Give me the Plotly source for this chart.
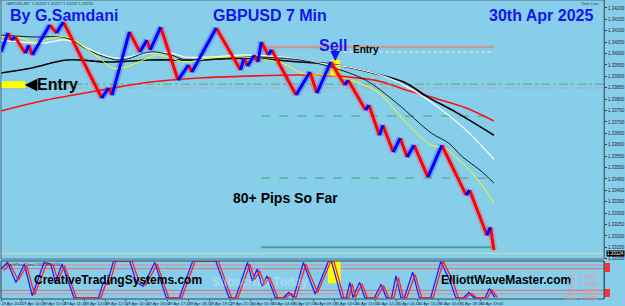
import plotly.graph_objects as go

# ---------------- data (bar index = 7-minute bars, prices GBPUSD) ----------------
price_bar = [0, 2, 3, 4, 7, 8, 9, 14, 16, 17, 18, 29, 31, 32, 37, 40, 42, 43, 46, 51,
             54, 55, 62, 69, 70, 71, 73, 74, 75, 77, 78, 85, 89, 91, 95, 99, 100, 105,
             106, 109, 110, 113, 115, 117, 119, 123, 127, 134, 135, 140, 141, 142]
price_val = [1.34007, 1.34090, 1.34059, 1.34073, 1.34002, 1.34037, 1.33994, 1.34125,
             1.34090, 1.34116, 1.34138, 1.33805, 1.33849, 1.33818, 1.34095, 1.34007,
             1.34059, 1.34016, 1.34116, 1.33884, 1.33950, 1.33919, 1.34112, 1.33928,
             1.33980, 1.33945, 1.33994, 1.33963, 1.34051, 1.33994, 1.34016, 1.33818,
             1.33919, 1.33827, 1.33963, 1.33862, 1.33884, 1.33752, 1.33774, 1.33642,
             1.33686, 1.33568, 1.33629, 1.33546, 1.33598, 1.33458, 1.33598, 1.33379,
             1.33401, 1.33203, 1.33238, 1.33138]

ma_red_bar = [0, 13, 29, 43, 57, 71, 86, 97, 109, 116, 126, 134, 142]
ma_red_val = [1.33748, 1.33796, 1.33840, 1.33875, 1.33893, 1.33901, 1.33906, 1.33901,
              1.33879, 1.33844, 1.33800, 1.33761, 1.33704]

ma_black_bar = [0, 9, 19, 31, 43, 57, 71, 86, 95, 106, 116, 123, 131, 142]
ma_black_val = [1.33915, 1.33937, 1.33972, 1.33963, 1.33972, 1.33972, 1.33980, 1.33963,
                1.33954, 1.33919, 1.33875, 1.33809, 1.33743, 1.33642]

ma_white_bar = [0, 12, 19, 28, 33, 43, 49, 53, 60, 71, 81, 92, 100, 111, 120, 127, 134, 142]
ma_white_val = [1.34059, 1.34046, 1.34059, 1.34002, 1.33980, 1.34002, 1.34002, 1.33985,
                1.33985, 1.33994, 1.33985, 1.33958, 1.33941, 1.33897, 1.33827, 1.33752,
                1.33664, 1.33537]

ma_dark_bar = [0, 9, 19, 25, 31, 35, 43, 49, 53, 60, 71, 86, 95, 105, 114, 124, 129, 133, 138, 142]
ma_dark_val = [1.34081, 1.34073, 1.34068, 1.34016, 1.33980, 1.33972, 1.34007, 1.33994,
               1.33972, 1.33972, 1.33985, 1.33972, 1.33941, 1.33884, 1.33783, 1.33651,
               1.33607, 1.33546, 1.33489, 1.33432]

ma_yellow_bar = [0, 6, 9, 19, 25, 29, 32, 36, 41, 45, 49, 53, 60, 69, 81, 86, 89, 95,
                 103, 109, 114, 118, 124, 128, 131, 135, 139, 142]
ma_yellow_val = [1.34073, 1.34068, 1.34051, 1.34073, 1.34016, 1.33972, 1.33937, 1.33941,
                 1.33972, 1.33994, 1.33980, 1.33963, 1.33980, 1.33985, 1.33958, 1.33919,
                 1.33906, 1.33906, 1.33871, 1.33827, 1.33743, 1.33678, 1.33598, 1.33585,
                 1.33546, 1.33489, 1.33414, 1.33344]

level_tp_top = 1.34029      # brown line
level_white_dot = 1.34007
level_green_dd = 1.33866
level_pink_dd = 1.33849
level_green_1 = 1.33726
level_green_2 = 1.33454
level_teal = 1.33151
bid_price = 1.33124

stoch_bar = [0, 1.9, 4.3, 6.7, 9.0, 12.4, 14.3, 15.7, 17.6, 21.0, 28.1, 29.5, 30.5, 32.4,
             37.1, 39.0, 41.0, 44.3, 47.6, 51.4, 55.2, 61.9, 65.7, 67.6, 71.0, 72.4, 73.8,
             75.2, 76.7, 79.0, 81.4, 82.9, 84.3, 87.1, 90.5, 94.3, 95.2, 98.1, 99.5, 100.5,
             101.4, 103.3, 104.8, 107.6, 109.5, 111.0, 112.5, 113.8, 115.2, 116.2, 118.6,
             120.5, 123.8, 126.7, 129.5, 131.0, 133.3, 134.8, 136.2, 139.5, 140.7, 142.3]
stoch_k = [79, 97, 42, 93, 5, 97, 93, 42, 93, 0, 0, 42, 37, 100, 100, 42, 32, 97, 0, 0,
           100, 100, 0, 0, 97, 46, 79, 32, 60, 0, 0, 14, 0, 97, 10, 100, 100, 0, 0, 42,
           0, 42, 0, 0, 37, 0, 0, 60, 0, 0, 70, 0, 0, 100, 42, 0, 0, 14, 0, 0, 25, 0]
sig_bar = [0.7, 2.6, 5.0, 7.4, 9.7, 13.1, 15.0, 16.4, 18.3, 21.7, 28.8, 30.2, 31.2, 33.1,
           37.8, 39.7, 41.7, 45.0, 48.3, 52.1, 55.9, 62.6, 66.4, 68.3, 71.7, 73.1, 74.5,
           75.9, 77.4, 79.7, 82.1, 83.6, 85.0, 87.8, 91.2, 95.0, 95.9, 98.8, 100.2, 101.2,
           102.1, 104.0, 105.5, 108.3, 110.2, 111.7, 113.2, 114.5, 115.9, 116.9, 119.3,
           121.2, 124.5, 127.4, 130.2, 131.7, 134.0, 135.5, 136.9, 140.2, 141.4, 143.0]
sig_d = [75, 92, 48, 88, 8, 92, 90, 48, 88, 0, 0, 38, 36, 100, 100, 46, 35, 92, 0, 0,
         100, 100, 0, 0, 92, 50, 74, 36, 56, 0, 0, 12, 0, 92, 14, 100, 100, 0, 0, 38,
         0, 38, 0, 0, 33, 0, 0, 55, 0, 0, 64, 0, 0, 100, 46, 0, 0, 12, 0, 0, 22, 0]
stoch_levels = [90, 80, 20, 10]

time_ticks = [0, 6, 12, 18, 24, 30, 36, 42, 48, 54, 60, 66, 72, 78, 84, 90, 96, 102,
              108, 114, 120, 126, 132, 138]
time_labels = ["29 Apr 2025", "29 Apr 10:09", "29 Apr 10:53", "29 Apr 11:26",
               "29 Apr 12:08", "29 Apr 12:50", "29 Apr 14:04", "29 Apr 16:00",
               "29 Apr 17:43", "29 Apr 18:25", "29 Apr 19:12", "29 Apr 21:15",
               "30 Apr 00:35", "30 Apr 04:49", "30 Apr 07:23", "30 Apr 09:17",
               "30 Apr 10:02", "30 Apr 11:01", "30 Apr 12:21", "30 Apr 14:41",
               "30 Apr 15:25", "30 Apr 16:47", "30 Apr 18:26", "30 Apr 19:05"]

pivot_labels = ["R3 - 1.35026", "R2 - 1.34739", "R1 - 1.34396", "Pivot - 1.34099"]

# ---------------- figure geometry ----------------
W, H = 625, 306
ML, MR, MT, MB = 1, 16, 0, 7
PW, PH = W - ML - MR, H - MT - MB


def px(x):
    return (x - ML) / PW


def py(y):
    return 1 - (y - MT) / PH


main_dom = [py(259), 1]
low_dom = [0, py(261)]
BG = "#87CEEB"

fig = go.Figure()


def seg(up):
    xs, ys = [], []
    for i in range(1, len(price_bar)):
        rising = price_val[i] > price_val[i - 1]
        if rising == up:
            xs += [price_bar[i - 1], price_bar[i], None]
            ys += [price_val[i - 1], price_val[i], None]
    return xs, ys


rx, ry = seg(False)
bx, by = seg(True)

# halo (wicks)
fig.add_trace(go.Scatter(x=rx, y=ry, mode="lines", line=dict(color="rgba(205,120,150,0.45)", width=7),
                         hoverinfo="skip", xaxis="x", yaxis="y"))
fig.add_trace(go.Scatter(x=bx, y=by, mode="lines", line=dict(color="rgba(70,110,255,0.45)", width=7),
                         hoverinfo="skip", xaxis="x", yaxis="y"))

# moving averages
fig.add_trace(go.Scatter(x=ma_red_bar, y=ma_red_val, mode="lines", line=dict(color="#ff1010", width=1.6, shape="spline"),
                         xaxis="x", yaxis="y"))
fig.add_trace(go.Scatter(x=ma_black_bar, y=ma_black_val, mode="lines", line=dict(color="#000000", width=1.6, shape="spline"),
                         xaxis="x", yaxis="y"))
fig.add_trace(go.Scatter(x=ma_white_bar, y=ma_white_val, mode="lines", line=dict(color="#ffffff", width=1.2, shape="spline"),
                         xaxis="x", yaxis="y"))
fig.add_trace(go.Scatter(x=ma_dark_bar, y=ma_dark_val, mode="lines", line=dict(color="#1a1a1a", width=1, shape="spline"),
                         xaxis="x", yaxis="y"))
fig.add_trace(go.Scatter(x=ma_yellow_bar, y=ma_yellow_val, mode="lines", line=dict(color="#ffff00", width=1, shape="spline"),
                         xaxis="x", yaxis="y"))

# price line
fig.add_trace(go.Scatter(x=rx, y=ry, mode="lines", line=dict(color="#ff0000", width=3),
                         xaxis="x", yaxis="y"))
fig.add_trace(go.Scatter(x=bx, y=by, mode="lines", line=dict(color="#0000ff", width=3),
                         xaxis="x", yaxis="y"))

# stochastic
fig.add_trace(go.Scatter(x=stoch_bar, y=stoch_k, mode="lines", line=dict(color="#2020ff", width=1.3),
                         xaxis="x", yaxis="y2"))
fig.add_trace(go.Scatter(x=sig_bar, y=sig_d, mode="lines", line=dict(color="#ff2020", width=1.3),
                         xaxis="x", yaxis="y2"))

XMAX = PW / 3.5
shapes = []


def hline(y, x0, x1, color, width, dash="solid", yref="y", layer="below"):
    shapes.append(dict(type="line", xref="x", yref=yref, x0=x0, x1=x1, y0=y, y1=y,
                       line=dict(color=color, width=width, dash=dash), layer=layer))


hline(level_tp_top, 75, 142, "#c49a92", 2.5)
hline(level_white_dot, 97, 142, "#f0f0f0", 1, "dot")
hline(level_green_dd, 0, XMAX, "#55b070", 1, "dashdot")
hline(level_pink_dd, 0, XMAX, "#c99aa8", 1.2, "dashdot")
hline(level_green_1, 75, 142, "#4aa070", 1, "dash")
hline(level_green_2, 75, 142, "#4aa070", 1, "dash")
hline(level_teal, 75, 142, "#4a9e8e", 2)
hline(bid_price, 0, XMAX, "#c9e69a", 1)
for lv, c in zip(stoch_levels, ["#d98a94", "#d87070", "#d87070", "#d98a94"]):
    hline(lv, 0, XMAX, c, 1, yref="y2")

# yellow boxes
shapes.append(dict(type="rect", xref="x", yref="y", x0=0, x1=7.1, y0=1.33849, y1=1.33879,
                   fillcolor="#ffff00", line=dict(width=0), layer="below"))
shapes.append(dict(type="rect", xref="x", yref="y", x0=94.9, x1=97.7, y0=1.33906, y1=1.33972,
                   fillcolor="#ffff00", line=dict(width=0), layer="below"))
shapes.append(dict(type="rect", xref="x", yref="y2", x0=94.2, x1=97.8, y0=40, y1=101,
                   fillcolor="#ffff00", line=dict(width=0), layer="below"))
# panel frames
shapes.append(dict(type="rect", xref="paper", yref="paper", x0=0, x1=1, y0=main_dom[0], y1=1,
                   line=dict(color="#4f7080", width=1), fillcolor="rgba(0,0,0,0)"))
shapes.append(dict(type="rect", xref="paper", yref="paper", x0=0, x1=1, y0=0, y1=low_dom[1],
                   line=dict(color="#2f4a58", width=1), fillcolor="rgba(0,0,0,0)"))
# red markers at right of lower panel
shapes.append(dict(type="rect", xref="paper", yref="paper", x0=px(610), x1=px(615), y0=py(272), y1=py(263),
                   fillcolor="#ff3030", line=dict(width=0)))
shapes.append(dict(type="rect", xref="paper", yref="paper", x0=px(610), x1=px(615), y0=py(297), y1=py(289),
                   fillcolor="#ff3030", line=dict(width=0)))

ann = []
FONT = "Liberation Sans, Arial, sans-serif"


def text(t, x, y, size, color, xanchor="center", bold=True, bg=None):
    d = dict(text=("<b>%s</b>" % t) if bold else t, x=px(x), y=py(y), xref="paper", yref="paper",
             xanchor=xanchor, yanchor="middle", showarrow=False,
             font=dict(family=FONT, size=size, color=color))
    if bg:
        d["bgcolor"] = bg
        d["borderpad"] = 0
    ann.append(d)


text("By G.Samdani", 65, 16, 16, "#1515ee")
text("GBPUSD 7 Min", 272, 16, 16, "#1515ee")
text("30th Apr 2025", 545, 16, 16, "#1515ee")
text("Sell", 336, 45.5, 16, "#1515ee")
text("Entry", 369, 49.5, 10, "#000000")
text("Entry", 58, 84.5, 16, "#000000")
text("80+ Pips So Far", 288, 198, 14, "#000000")
text("CreativeTradingSystems.com", 119, 279.5, 12, "#000000")
text("ElliottWaveMaster.com", 510, 279.5, 12, "#000000")
text("Subscribe Today", 262, 281.5, 12, "rgba(255,255,255,0.3)")
text("GBPUSD,M7  1.33209 1.33217 1.33209 1.33216", 4, 3.5, 4, "#2a3a4a", "left", False)
text("Time Line", 606, 3.5, 4, "#2a3a4a", "right", False)
text("StochPlus Clone 1.6377 0.0000", 3, 264.5, 4, "#2a3a4a", "left", False)
for lab, yy in zip(pivot_labels, [276.5, 284, 291, 297.5]):
    text(lab, 605, yy, 5, "#ff8a8a", "right", False)
text("%.5f" % bid_price, 611, 253, 4.5, "#ffffff", "left", False, bg="#000000")

# arrows
ann.append(dict(x=px(25), y=py(85), xref="paper", yref="paper", ax=13, ay=0, axref="pixel", ayref="pixel",
                showarrow=True, arrowhead=2, arrowsize=1, arrowwidth=2.5, arrowcolor="#000000", text=""))
ann.append(dict(x=px(338), y=py(61), xref="paper", yref="paper", ax=0, ay=-9, axref="pixel", ayref="pixel",
                showarrow=True, arrowhead=2, arrowsize=1, arrowwidth=2, arrowcolor="#1515ee", text=""))

fig.update_layout(
    width=W, height=H, margin=dict(l=ML, r=MR, t=MT, b=MB),
    paper_bgcolor=BG, plot_bgcolor=BG, showlegend=False,
    shapes=shapes, annotations=ann,
    xaxis=dict(domain=[0, 1], anchor="y2", range=[0, XMAX], showgrid=False, zeroline=False,
               tickvals=time_ticks, ticktext=time_labels, ticklabelposition="outside right",
               tickangle=0, tickfont=dict(family=FONT, size=4, color="#223"), ticks="outside",
               ticklen=1, tickcolor="#335", showline=False),
    yaxis=dict(domain=main_dom, anchor="x", side="right", range=[1.33099, 1.34235],
               tick0=1.342, dtick=0.0005, tickformat=".5f", showgrid=False, zeroline=False,
               tickfont=dict(family=FONT, size=4.5, color="#223"), ticks="outside", ticklen=2,
               tickcolor="#335", showline=True, linecolor="#4f7080", linewidth=1),
    yaxis2=dict(domain=low_dom, anchor="x", side="right", range=[-3.9, 101.1], showgrid=False,
                zeroline=False, showticklabels=False, showline=True, linecolor="#4f7080"),
)

fig.write_html("out.html")
